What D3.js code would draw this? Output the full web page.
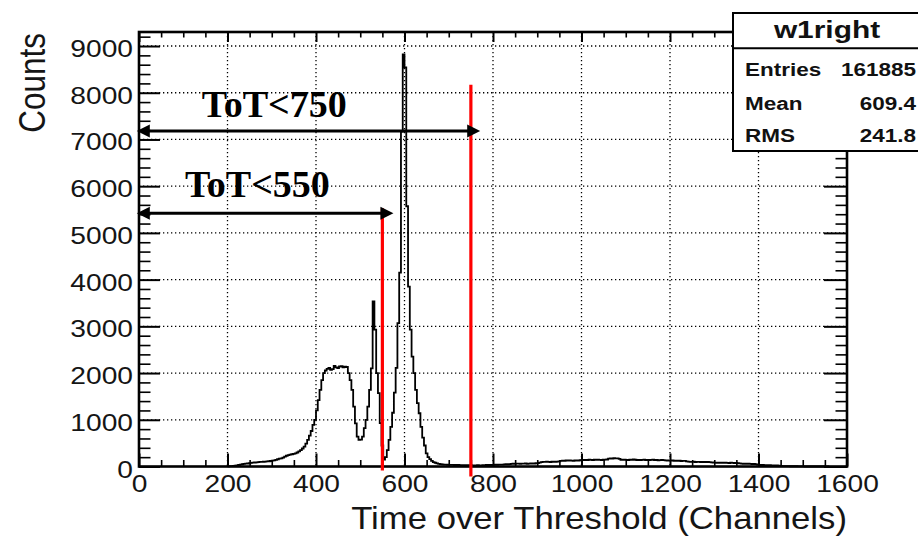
<!DOCTYPE html>
<html>
<head>
<meta charset="utf-8">
<script src="https://cdn.jsdelivr.net/npm/d3@7"></script>
<style>
  html, body { margin: 0; padding: 0; background: #fff; }
  svg { display: block; }
</style>
</head>
<body>
<svg id="chart" width="918" height="538"></svg>
<script>
// ---- histogram data: counts per 4-channel bin, first bin starts at channel 200 ----
const channelStart = 200;
const binWidth = 4;
const counts = [
  5, 8, 10, 14, 18, 25, 32, 40, 48, 55,                 // 200-236
  60, 64, 70, 76, 82, 86, 90, 93, 97, 100,              // 240-276
  102, 104, 108, 112, 118, 124, 130, 140, 155, 168,     // 280-316
  176, 190, 210, 230, 245, 255, 262, 272, 280, 300,     // 320-356
  325, 350, 385, 425, 490, 570, 660, 760, 890, 1000,    // 360-396
  1200, 1420, 1640, 1850, 2000, 2055, 2090, 2110, 2070, 2085, // 400-436
  2155, 2120, 2105, 2140, 2150, 2120, 2135, 2130, 2000, 1850, // 440-476
  1640, 1280, 925, 640, 570, 575, 640, 820, 1000, 1280, // 480-516
  1640, 2100, 3535, 2930, 2000, 1570, 930, 450, 150, 200, // 520-556
  350, 570, 850, 1150, 1580, 2110, 3070, 4150, 7170, 8820, // 560-596
  8540, 5570, 3850, 2930, 2350, 2000, 1640, 1355, 1140, 850, // 600-636
  620, 450, 280, 200, 160, 120, 95, 80, 65, 58,         // 640-676
  50, 46, 42, 40, 38, 36, 34, 35, 32, 30,               // 680-716
  32, 30, 28, 30, 26, 28, 25, 27, 24, 26,               // 720-756
  25, 28, 24, 26, 30, 28, 32, 30, 34, 32,               // 760-796
  35, 38, 36, 40, 42, 40, 45, 48, 46, 50,               // 800-836
  55, 60, 58, 62, 60, 56, 62, 60, 64, 58,               // 840-876
  62, 66, 60, 64, 70, 72, 85, 95, 100, 98,              // 880-916
  104, 100, 96, 102, 106, 100, 104, 110, 120, 126,      // 920-956
  122, 128, 124, 130, 126, 122, 128, 132, 126, 135,     // 960-996
  140, 138, 142, 136, 145, 140, 138, 144, 140, 146,     // 1000-1036
  142, 138, 144, 148, 150, 170, 175, 168, 178, 172,     // 1040-1076
  176, 165, 145, 140, 148, 142, 138, 146, 140, 150,     // 1080-1116
  144, 138, 142, 136, 140, 146, 138, 142, 135, 140,     // 1120-1156
  144, 138, 140, 134, 138, 142, 136, 130, 128, 126,     // 1160-1196
  124, 128, 122, 126, 120, 124, 118, 122, 120, 110,     // 1200-1236
  104, 100, 98, 102, 96, 100, 98, 94, 100, 96,          // 1240-1276
  92, 98, 94, 90, 86, 82, 80, 84, 78, 80,               // 1280-1316
  76, 82, 78, 74, 80, 76, 72, 78, 74, 68,               // 1320-1356
  62, 58, 60, 56, 60, 58, 54, 58, 52, 40,               // 1360-1396
  34, 30, 32, 28, 30, 26, 28, 24, 26, 22,               // 1400-1436
  24, 20, 12, 10, 8, 10, 6, 8, 5, 6,                    // 1440-1476
  4, 5, 3, 4, 2, 3, 0, 2, 0, 0,                         // 1480-1516
  1, 0, 0, 0, 0, 0, 2, 0, 0, 0                          // 1520-1556
];

// ---- axes ----
const xMajor = [0, 200, 400, 600, 800, 1000, 1200, 1400, 1600];
const xLabels = ["0", "200", "400", "600", "800", "1000", "1200", "1400", "1600"];
const yMajor = [0, 1000, 2000, 3000, 4000, 5000, 6000, 7000, 8000, 9000];
const yLabels = ["0", "1000", "2000", "3000", "4000", "5000", "6000", "7000", "8000", "9000"];
const xTitle = "Time over Threshold (Channels)";
const yTitle = "Counts";

// ---- statistics panel ----
const statsTitle = "w1right";
const statsNames = ["Entries", "Mean", "RMS"];
const statsValues = ["161885", "609.4", "241.8"];

// ---- ToT cuts ----
const cutValues = [550, 750];
const cutLabels = ["ToT<550", "ToT<750"];

// ---------------------------------------------------------------
const W = 918, H = 538;
const plot = { left: 139, right: 847, top: 32, bottom: 466.5 };
const SX = 1.15;               // horizontal stretch of sans-serif glyphs
const sans = "'Liberation Sans', Arial, Helvetica, sans-serif";
const serif = "'Liberation Serif', 'Times New Roman', serif";

const x = d3.scaleLinear().domain([0, 1600]).range([plot.left, plot.right]);
const y = d3.scaleLinear().domain([0, 9300]).range([plot.bottom, plot.top]);

const svg = d3.select("#chart");
svg.append("rect").attr("width", W).attr("height", H).attr("fill", "#fff");

// dotted grid
const grid = svg.append("g")
  .attr("stroke", "#000").attr("stroke-width", 1.3).attr("stroke-dasharray", "1.3,2.7");
grid.selectAll("line.gx").data(xMajor.slice(1, -1)).join("line").attr("class", "gx")
  .attr("x1", d => x(d)).attr("x2", d => x(d)).attr("y1", plot.top).attr("y2", plot.bottom);
grid.selectAll("line.gy").data(yMajor.slice(1)).join("line").attr("class", "gy")
  .attr("x1", plot.left).attr("x2", plot.right).attr("y1", d => y(d)).attr("y2", d => y(d));

// histogram outline
const bins = counts.map((v, i) => ({ c: channelStart + i * binWidth, v }));
const lastEdge = channelStart + counts.length * binWidth;
const pts = [{ c: channelStart, v: 0 }, ...bins, { c: lastEdge, v: counts[counts.length - 1] }, { c: lastEdge, v: 0 }];
const stepLine = d3.line().x(d => x(d.c)).y(d => y(d.v)).curve(d3.curveStepAfter);
svg.append("path").datum(pts)
  .attr("d", stepLine)
  .attr("fill", "none").attr("stroke", "#000").attr("stroke-width", 1.8)
  .attr("stroke-linejoin", "miter");

// axes with inward ticks
function clean(g, w) {
  g.select(".domain").remove();
  g.selectAll(".tick line").attr("stroke", "#000").attr("stroke-width", w);
}
const minorX = d3.range(0, 1601, 50).filter(d => d % 200 !== 0);
const minorY = d3.range(0, 9300, 200).filter(d => d % 1000 !== 0);

const gBottom = svg.append("g").attr("transform", `translate(0,${plot.bottom})`)
  .call(d3.axisBottom(x).tickValues(xMajor).tickSizeInner(-13).tickSizeOuter(0)
    .tickFormat((d, i) => xLabels[i]));
clean(gBottom, 2);
gBottom.attr("font-family", sans).attr("font-size", 24.5);
gBottom.selectAll(".tick text").attr("y", null).attr("dy", null).attr("fill", "#151515")
  .attr("transform", `translate(0,25) scale(${SX},1)`);

svg.append("g").attr("transform", `translate(0,${plot.bottom})`)
  .call(d3.axisBottom(x).tickValues(minorX).tickSizeInner(-6.5).tickSizeOuter(0).tickFormat(() => ""))
  .call(g => clean(g, 1.6));

svg.append("g").attr("transform", `translate(0,${plot.top})`)
  .call(d3.axisTop(x).tickValues(xMajor).tickSizeInner(-10).tickSizeOuter(0).tickFormat(() => ""))
  .call(g => clean(g, 2));
svg.append("g").attr("transform", `translate(0,${plot.top})`)
  .call(d3.axisTop(x).tickValues(minorX).tickSizeInner(-5.5).tickSizeOuter(0).tickFormat(() => ""))
  .call(g => clean(g, 1.6));

const gLeft = svg.append("g").attr("transform", `translate(${plot.left},0)`)
  .call(d3.axisLeft(y).tickValues(yMajor).tickSizeInner(-21).tickSizeOuter(0)
    .tickFormat((d, i) => yLabels[i]));
clean(gLeft, 2);
gLeft.attr("font-family", sans).attr("font-size", 24.5);
gLeft.selectAll(".tick text").attr("x", null).attr("dy", null).attr("fill", "#151515")
  .attr("text-anchor", "end")
  .attr("transform", `translate(-6,10.5) scale(${SX},1)`);

svg.append("g").attr("transform", `translate(${plot.left},0)`)
  .call(d3.axisLeft(y).tickValues(minorY).tickSizeInner(-11.5).tickSizeOuter(0).tickFormat(() => ""))
  .call(g => clean(g, 1.6));

svg.append("g").attr("transform", `translate(${plot.right},0)`)
  .call(d3.axisRight(y).tickValues(yMajor).tickSizeInner(-23).tickSizeOuter(0).tickFormat(() => ""))
  .call(g => clean(g, 2));
svg.append("g").attr("transform", `translate(${plot.right},0)`)
  .call(d3.axisRight(y).tickValues(minorY).tickSizeInner(-11.5).tickSizeOuter(0).tickFormat(() => ""))
  .call(g => clean(g, 1.6));

// frame
svg.append("rect")
  .attr("x", plot.left).attr("y", plot.top)
  .attr("width", plot.right - plot.left).attr("height", plot.bottom - plot.top)
  .attr("fill", "none").attr("stroke", "#000").attr("stroke-width", 2.6);

// axis titles
svg.append("text")
  .attr("transform", `translate(${plot.right},528.5) scale(${SX - 0.03},1)`)
  .attr("text-anchor", "end").attr("font-family", sans).attr("font-size", 31)
  .attr("fill", "#151515").text(xTitle);
svg.append("text")
  .attr("transform", `translate(45,33) rotate(-90) scale(1,${SX})`)
  .attr("text-anchor", "end").attr("font-family", sans).attr("font-size", 31.5)
  .attr("fill", "#151515").text(yTitle);

// red cut lines
const cutTops = [5530, 8170];
const cutBottomPx = [4, 10];
svg.append("g").selectAll("line").data(cutValues).join("line")
  .attr("x1", d => x(d)).attr("x2", d => x(d))
  .attr("y1", (d, i) => y(cutTops[i]))
  .attr("y2", (d, i) => y(0) + cutBottomPx[i])
  .attr("stroke", "#f00").attr("stroke-width", 3.2);

// double-headed arrows with labels
const arrowLevels = [5420, 7180];
const arrowFrom = -5;
const arrowTo = [575, 771];
const labelAt = [{ c: 104, v: 5775 }, { c: 142, v: 7490 }];
const gArr = svg.append("g");
cutValues.forEach((cv, i) => {
  const yy = y(arrowLevels[i]);
  const x0 = x(arrowFrom), x1 = x(arrowTo[i]);
  const hl = 13, hw = 6.5;
  gArr.append("line").attr("x1", x0 + hl - 1).attr("x2", x1 - hl + 1)
    .attr("y1", yy).attr("y2", yy).attr("stroke", "#000").attr("stroke-width", 3);
  gArr.append("path").attr("d", `M${x0},${yy}L${x0 + hl},${yy - hw}L${x0 + hl},${yy + hw}Z`).attr("fill", "#000");
  gArr.append("path").attr("d", `M${x1},${yy}L${x1 - hl},${yy - hw}L${x1 - hl},${yy + hw}Z`).attr("fill", "#000");
  gArr.append("text")
    .attr("x", x(labelAt[i].c)).attr("y", y(labelAt[i].v))
    .attr("font-family", serif).attr("font-weight", "bold").attr("font-size", 38)
    .attr("fill", "#000").text(cutLabels[i]);
});

// statistics panel
const box = { x: 733, y: 13, w: 200, h: 138 };
const gs = svg.append("g");
gs.append("rect").attr("x", box.x).attr("y", box.y).attr("width", box.w).attr("height", box.h)
  .attr("fill", "#fff").attr("stroke", "#000").attr("stroke-width", 2);
gs.append("line").attr("x1", box.x).attr("x2", box.x + box.w).attr("y1", 48.3).attr("y2", 48.3)
  .attr("stroke", "#000").attr("stroke-width", 2);
gs.append("text").attr("transform", `translate(827,37.5) scale(1.3,1)`)
  .attr("text-anchor", "middle").attr("font-family", sans).attr("font-weight", "bold")
  .attr("font-size", 23).attr("fill", "#111").text(statsTitle);
const rowBase = [76, 110, 141.5];
statsNames.forEach((n, i) => {
  gs.append("text").attr("transform", `translate(745,${rowBase[i]}) scale(1.25,1)`)
    .attr("font-family", sans).attr("font-weight", "bold").attr("font-size", 18)
    .attr("fill", "#111").text(n);
  gs.append("text").attr("transform", `translate(916,${rowBase[i]}) scale(1.25,1)`)
    .attr("text-anchor", "end").attr("font-family", sans).attr("font-weight", "bold").attr("font-size", 18)
    .attr("fill", "#111").text(statsValues[i]);
});
</script>
</body>
</html>
